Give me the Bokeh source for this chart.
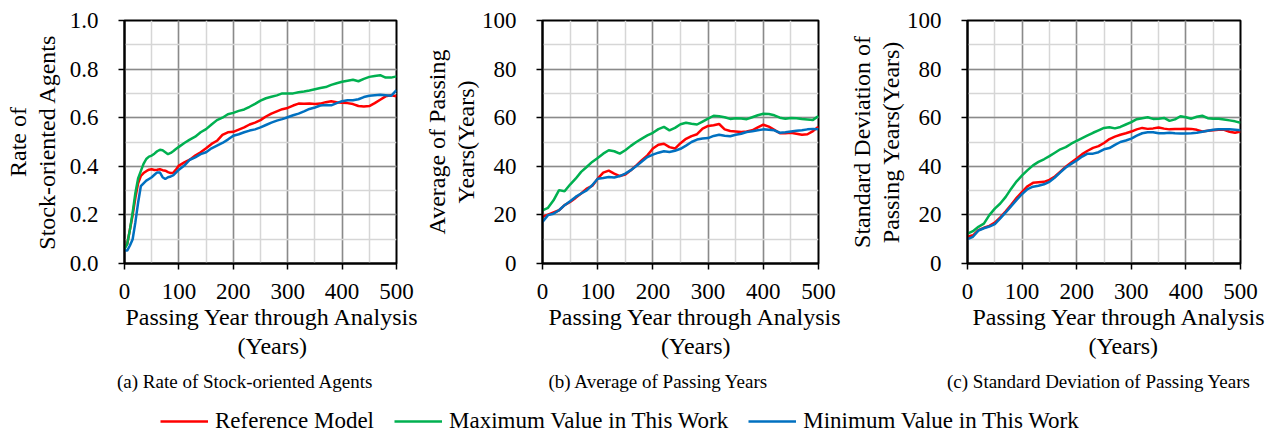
from bokeh.plotting import figure
from bokeh.layouts import column, row
from bokeh.models import (Range1d, SingleIntervalTicker, FixedTicker, NumeralTickFormatter,
                          Title, Legend, LegendItem, LinearAxis)
from bokeh.embed import file_html
from bokeh.resources import INLINE

# ---------------- data ----------------
YEARS_A = [0, 5, 10, 15, 20, 25, 30, 35, 40, 45, 50, 55, 60, 65, 70, 75, 80, 85, 90, 95] + \
          [100, 110, 120, 130, 140, 150, 160, 170, 180, 190, 200, 210, 220, 230, 240, 250,
           260, 270, 280, 290, 300, 310, 320, 330, 340, 350, 360, 370, 380, 390, 400, 410,
           420, 430, 440, 450, 460, 470, 480, 490, 500]
YEARS = [0, 10, 20, 30, 40, 50, 60, 70, 80, 90, 100, 110, 120, 130, 140, 150, 160, 170, 180,
         190, 200, 210, 220, 230, 240, 250, 260, 270, 280, 290, 300, 310, 320, 330, 340, 350,
         360, 370, 380, 390, 400, 410, 420, 430, 440, 450, 460, 470, 480, 490, 500]

# (a) Rate of stock-oriented agents
rate_ref = [0.065, 0.08, 0.14, 0.20, 0.27, 0.33, 0.36, 0.372, 0.38, 0.386, 0.388, 0.385, 0.386,
            0.388, 0.384, 0.382, 0.376, 0.372, 0.374, 0.388,
            0.403, 0.416, 0.427, 0.444, 0.458, 0.474, 0.492, 0.505, 0.529, 0.54,
            0.542, 0.551, 0.56, 0.572, 0.58, 0.59, 0.605, 0.617, 0.626, 0.635,
            0.64, 0.65, 0.658, 0.657, 0.658, 0.656, 0.658, 0.664, 0.668, 0.664,
            0.662, 0.66, 0.656, 0.648, 0.646, 0.648, 0.66, 0.674, 0.688, 0.692, 0.688]
rate_max = [0.06, 0.08, 0.14, 0.21, 0.29, 0.35, 0.38, 0.41, 0.43, 0.44, 0.444, 0.452, 0.462,
            0.468, 0.466, 0.458, 0.45, 0.455, 0.463, 0.472,
            0.48, 0.496, 0.51, 0.522, 0.54, 0.553, 0.572, 0.59, 0.60, 0.614,
            0.62, 0.628, 0.634, 0.645, 0.657, 0.67, 0.68, 0.686, 0.692, 0.70,
            0.70, 0.70, 0.705, 0.708, 0.712, 0.717, 0.722, 0.726, 0.735, 0.742,
            0.748, 0.752, 0.756, 0.75, 0.76, 0.768, 0.772, 0.775, 0.765, 0.765, 0.77]
rate_min = [0.053, 0.053, 0.074, 0.10, 0.17, 0.25, 0.318, 0.33, 0.341, 0.348, 0.355, 0.365,
            0.375, 0.375, 0.355, 0.348, 0.355, 0.358, 0.364, 0.375,
            0.386, 0.403, 0.427, 0.437, 0.45, 0.458, 0.474, 0.485, 0.496, 0.51,
            0.526, 0.532, 0.54, 0.547, 0.552, 0.56, 0.57, 0.58, 0.588, 0.594,
            0.602, 0.61, 0.617, 0.626, 0.636, 0.642, 0.65, 0.652, 0.651, 0.66,
            0.668, 0.672, 0.672, 0.676, 0.685, 0.69, 0.692, 0.694, 0.692, 0.69, 0.713]

# (b) Average of passing years
avg_ref = [19.2, 20.1, 21.0, 21.9, 24.0, 25.3, 27.0, 28.8, 30.8, 31.9,
           34.9, 37.4, 38.2, 37.0, 36.0, 36.6, 38.4, 40.4, 42.5, 44.5,
           47.3, 48.9, 49.3, 47.9, 47.3, 49.5, 51.3, 52.4, 53.2, 55.5,
           56.6, 56.9, 57.4, 55.2, 54.5, 54.3, 54.1, 54.3, 54.8, 56.0,
           57.1, 56.3, 55.0, 53.6, 53.6, 53.8, 53.4, 53.0, 53.2, 54.5, 56.3]
avg_max = [21.9, 22.9, 26.0, 30.2, 29.7, 32.5, 34.9, 37.7, 39.7, 41.8,
           43.4, 45.2, 46.6, 46.2, 45.2, 46.6, 48.4, 50.0, 51.4, 52.7,
           53.8, 55.3, 56.2, 54.8, 55.8, 57.3, 57.9, 57.5, 57.2, 58.4,
           59.6, 60.8, 60.6, 60.2, 59.5, 59.8, 59.7, 59.4, 60.2, 61.0,
           61.6, 61.5, 61.0, 60.0, 59.6, 59.9, 59.8, 59.5, 59.3, 59.1, 60.7]
avg_min = [17.1, 19.9, 20.5, 21.9, 24.0, 25.6, 27.4, 28.8, 30.1, 32.2,
           34.9, 35.2, 35.6, 35.4, 36.0, 37.0, 38.4, 40.1, 42.0, 43.8,
           44.8, 45.6, 46.2, 45.9, 46.4, 47.2, 48.5, 50.0, 51.0, 51.4,
           51.6, 52.5, 53.0, 52.6, 52.4, 53.0, 53.4, 54.1, 54.4, 54.8,
           55.2, 55.0, 54.8, 53.8, 54.0, 54.3, 54.6, 54.8, 55.2, 55.4, 55.2]

# (c) Standard deviation of passing years
sd_ref = [11.0, 11.6, 13.7, 14.7, 15.5, 16.8, 19.0, 21.5, 24.2, 27.0,
          29.5, 31.8, 33.2, 33.4, 33.6, 34.4, 35.8, 37.8, 39.8, 41.6,
          43.2, 45.0, 46.4, 47.6, 48.3, 49.6, 51.2, 52.2, 53.0, 53.6,
          54.3, 55.2, 55.8, 55.4, 55.6, 56.0, 55.5, 55.2, 55.3, 55.4,
          55.5, 55.4, 55.0, 54.3, 54.6, 54.8, 55.0, 55.0, 54.2, 53.8, 54.3]
sd_max = [12.3, 13.3, 15.1, 16.4, 19.9, 22.6, 24.7, 27.4, 30.8, 33.8,
          36.3, 38.4, 40.4, 41.8, 42.9, 44.2, 45.6, 47.0, 47.9, 49.3,
          50.5, 51.6, 52.7, 53.8, 54.8, 55.8, 56.1, 55.6, 56.2, 57.2,
          58.2, 59.4, 59.8, 60.2, 59.5, 59.6, 59.9, 58.7, 59.3, 60.6,
          60.2, 59.6, 60.4, 60.8, 59.8, 59.6, 59.6, 59.3, 58.9, 58.5, 57.9]
sd_min = [10.0, 11.0, 13.5, 14.5, 15.2, 16.2, 18.6, 21.0, 23.6, 26.2,
          28.6, 30.6, 31.6, 32.0, 32.6, 33.6, 35.4, 37.5, 39.5, 41.0,
          42.4, 44.0, 45.2, 45.2, 45.8, 47.0, 47.5, 48.8, 50.0, 50.6,
          51.4, 52.6, 53.6, 54.0, 54.0, 53.6, 53.6, 53.8, 53.6, 53.5,
          53.5, 53.6, 53.8, 54.2, 54.6, 55.0, 55.2, 55.2, 55.2, 55.0, 54.8]

SERIES_NAMES = ["Reference Model", "Maximum Value in This Work", "Minimum Value in This Work"]
# y titles: (outer line, inner line)
Y_TITLES = [("Rate of", "Stock-oriented Agents"),
            ("Average of Passing", "Years(Years)"),
            ("Standard Deviation of", "Passing Years(Years)")]
X_TITLE_1 = "Passing Year through Analysis"
X_TITLE_2 = "(Years)"
CAPTIONS = ["(a) Rate of Stock-oriented Agents", "(b) Average of Passing Years",
            "(c) Standard Deviation of Passing Years"]

# ---------------- style ----------------
FONT = "Liberation Serif"
COLORS = ["#FF0000", "#00B050", "#0070C0"]
MAJOR_GRID = "#8a8a8a"
MINOR_GRID = "#d6d6d6"
TOP_H = 404
FS_TICK = "23px"
FS_TITLE = "24px"


def make_panel(x, ys, ymax, ystep, yfmt, ytitle, ylab_standoff, width, left, right,
               t1_off, t2_off, caption, cap_off):
    p = figure(width=width, height=TOP_H, x_range=Range1d(0, 500), y_range=Range1d(0, ymax),
               output_backend="svg", toolbar_location=None,
               min_border_left=left, min_border_right=right, min_border_top=20,
               min_border_bottom=TOP_H - 263)
    p.outline_line_color = "black"
    p.outline_line_width = 2

    xt = SingleIntervalTicker(interval=100, num_minor_ticks=2)
    yt = SingleIntervalTicker(interval=ystep, num_minor_ticks=2)
    p.xaxis.ticker = xt
    p.yaxis.ticker = yt
    p.xgrid.ticker = xt
    p.ygrid.ticker = yt
    p.xgrid.grid_line_color = MAJOR_GRID
    p.ygrid.grid_line_color = MAJOR_GRID
    p.xgrid.grid_line_width = 1.5
    p.ygrid.grid_line_width = 1.5
    p.xgrid.minor_grid_line_color = MINOR_GRID
    p.ygrid.minor_grid_line_color = MINOR_GRID
    p.xgrid.minor_grid_line_width = 1.5
    p.ygrid.minor_grid_line_width = 1.5
    if yfmt:
        p.yaxis.formatter = NumeralTickFormatter(format=yfmt)

    for ax in p.xaxis + p.yaxis:
        ax.axis_line_color = "black"
        ax.axis_line_width = 2
        ax.major_tick_out = 6
        ax.major_tick_in = 0
        ax.major_tick_line_color = "black"
        ax.major_tick_line_width = 1.5
        ax.minor_tick_out = 0
        ax.minor_tick_in = 0
        ax.major_label_text_font = FONT
        ax.major_label_text_font_size = FS_TICK
        ax.major_label_text_color = "black"
    p.xaxis.major_label_standoff = 14
    p.yaxis.major_label_standoff = 20
    p.yaxis.axis_label = ytitle[1]
    p.yaxis.axis_label_text_font = FONT
    p.yaxis.axis_label_text_font_size = FS_TITLE
    p.yaxis.axis_label_text_font_style = "normal"
    p.yaxis.axis_label_text_color = "black"
    p.yaxis.axis_label_standoff = ylab_standoff

    # outer line of the y title, carried by a tickless axis further left
    outer = LinearAxis(ticker=FixedTicker(ticks=[]), axis_label=ytitle[0],
                       axis_label_text_font=FONT, axis_label_text_font_size=FS_TITLE,
                       axis_label_text_font_style="normal", axis_label_text_color="black",
                       axis_label_standoff=0, axis_line_color=None,
                       major_tick_line_color=None, minor_tick_line_color=None,
                       major_tick_out=0, major_tick_in=0, minor_tick_out=0, minor_tick_in=0,
                       major_label_standoff=0)
    p.add_layout(outer, "left")

    for yv, c in zip(ys, COLORS):
        p.line(x, yv, line_color=c, line_width=2.5)

    p.add_layout(Title(text=X_TITLE_1, align="left", offset=t1_off, text_font=FONT,
                       text_font_size=FS_TITLE, text_font_style="normal", text_color="black",
                       standoff=0), "below")
    p.add_layout(Title(text=X_TITLE_2, align="left", offset=t2_off, text_font=FONT,
                       text_font_size=FS_TITLE, text_font_style="normal", text_color="black",
                       standoff=2), "below")
    p.add_layout(Title(text=caption, align="left", offset=cap_off, text_font=FONT,
                       text_font_size="19px", text_font_style="normal", text_color="black",
                       standoff=18), "below")
    return p


pa = make_panel(YEARS_A, [rate_ref, rate_max, rate_min], 1.0, 0.2, "0.0", Y_TITLES[0], 7,
                420, 124, 24, 1, 113, CAPTIONS[0], -7.5)
pb = make_panel(YEARS, [avg_ref, avg_max, avg_min], 100, 20, None, Y_TITLES[1], 0,
                425, 122, 27, 6, 118.5, CAPTIONS[1], 6)
pc = make_panel(YEARS, [sd_ref, sd_max, sd_min], 100, 20, None, Y_TITLES[2], 0,
                432, 116, 37, 5, 121, CAPTIONS[2], -20.5)

# legend strip: its renderers carry the series but lie outside the strip's visible range
leg = figure(width=1277, height=434 - TOP_H, x_range=Range1d(0, 1), y_range=Range1d(0, 1),
             x_axis_type=None, y_axis_type=None, output_backend="svg", toolbar_location=None,
             min_border=0)
leg.outline_line_color = None
items = []
for name, yv, c in zip(SERIES_NAMES, [avg_ref, avg_max, avg_min], COLORS):
    r = leg.line(YEARS, yv, line_color=c, line_width=2.5)
    items.append(LegendItem(label=name, renderers=[r]))
legend = Legend(items=items, orientation="horizontal", location=(160, 0), glyph_width=48,
                glyph_height=20, label_standoff=7, spacing=20, padding=0, margin=0,
                border_line_color=None, background_fill_alpha=0, label_text_font=FONT,
                label_text_font_size=FS_TICK, label_text_color="black")
leg.add_layout(legend)

layout = column(row(pa, pb, pc), leg)
open("out.html", "w").write(file_html(layout, INLINE))
